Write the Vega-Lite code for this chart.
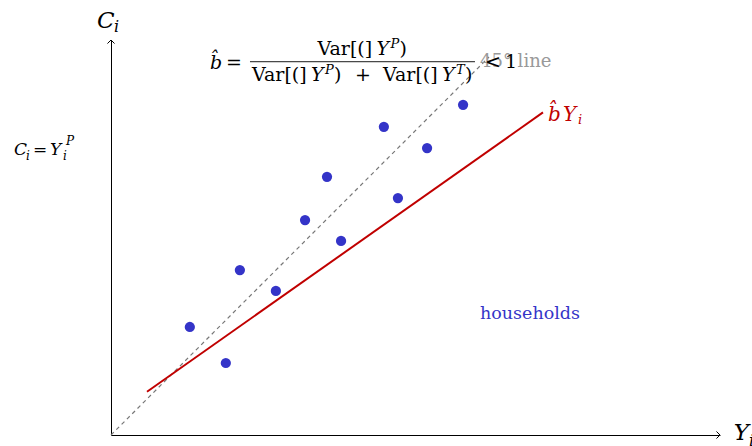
{
  "$schema": "https://vega.github.io/schema/vega-lite/v6.json",
  "width": 609,
  "height": 395,
  "autosize": "none",
  "padding": {"left": 111, "top": 40, "right": 32, "bottom": 11},
  "background": "white",
  "config": {"view": {"stroke": null}, "text": {"font": "DejaVu Serif", "align": "left", "baseline": "middle"}},
  "encoding": {
    "x": {"type": "quantitative", "scale": {"domain": [0, 16.917], "nice": false, "zero": false},
      "axis": {"domain": true, "domainColor": "black", "domainWidth": 1, "ticks": false, "labels": false, "grid": false, "title": null}},
    "y": {"type": "quantitative", "scale": {"domain": [0, 10.972], "nice": false, "zero": false},
      "axis": {"domain": true, "domainColor": "black", "domainWidth": 1, "ticks": false, "labels": false, "grid": false, "title": null}}
  },
  "layer": [
    {
      "data": {"values": [{"x": 0, "y": 0}, {"x": 10.5, "y": 10.5}]},
      "mark": {"type": "line", "color": "#777777", "strokeWidth": 1.2, "strokeDash": [4, 3.5]},
      "encoding": {"x": {"field": "x"}, "y": {"field": "y"}}
    },
    {
      "data": {"values": [{"x": 1, "y": 1.2}, {"x": 12, "y": 8.96}]},
      "mark": {"type": "line", "color": "#c00000", "strokeWidth": 2},
      "encoding": {"x": {"field": "x"}, "y": {"field": "y"}}
    },
    {
      "data": {"values": [
        {"x": 2.19, "y": 3.0}, {"x": 3.19, "y": 2.0}, {"x": 3.58, "y": 4.58},
        {"x": 4.58, "y": 4.0}, {"x": 5.39, "y": 5.97}, {"x": 6.0, "y": 7.17},
        {"x": 6.39, "y": 5.39}, {"x": 7.58, "y": 8.56}, {"x": 7.97, "y": 6.58},
        {"x": 8.78, "y": 7.97}, {"x": 9.78, "y": 9.17}
      ]},
      "mark": {"type": "circle", "color": "#3434c8", "opacity": 1, "size": 105},
      "encoding": {"x": {"field": "x"}, "y": {"field": "y"}}
    },
    {
      "data": {"values": [{"x": 16.917, "y": 0}]},
      "mark": {"type": "point", "shape": "M -1 -1 L 0 0 L -1 1", "filled": false, "stroke": "black", "strokeWidth": 1, "size": 50, "opacity": 1},
      "encoding": {"x": {"field": "x"}, "y": {"field": "y"}}
    },
    {
      "data": {"values": [{"x": 0, "y": 10.972}]},
      "mark": {"type": "point", "shape": "M -1 1 L 0 0 L 1 1", "filled": false, "stroke": "black", "strokeWidth": 1, "size": 50, "opacity": 1},
      "encoding": {"x": {"field": "x"}, "y": {"field": "y"}}
    },
    {
      "data": {"values": [{"x0": 3.861, "x1": 10.111, "y": 10.369}]},
      "mark": {"type": "rule", "color": "black", "strokeWidth": 0.9},
      "encoding": {"x": {"field": "x0"}, "x2": {"field": "x1"}, "y": {"field": "y"}}
    },
    {
      "data": {"values": [
        {"x": -0.389, "y": 11.486, "t": "C"},
        {"x": 17.297, "y": 0.042, "t": "Y"}
      ]},
      "mark": {"type": "text", "fontStyle": "italic", "fontSize": 23, "color": "black"},
      "encoding": {"x": {"field": "x"}, "y": {"field": "y"}, "text": {"field": "t"}}
    },
    {
      "data": {"values": [
        {"x": 0.083, "y": 11.333, "t": "i"},
        {"x": 17.72, "y": -0.167, "t": "i"}
      ]},
      "mark": {"type": "text", "fontStyle": "italic", "fontSize": 16, "color": "black"},
      "encoding": {"x": {"field": "x"}, "y": {"field": "y"}, "text": {"field": "t"}}
    },
    {
      "data": {"values": [
        {"x": -2.694, "y": 7.908, "t": "C"},
        {"x": -1.694, "y": 7.908, "t": "Y"}
      ]},
      "mark": {"type": "text", "fontStyle": "italic", "fontSize": 17, "color": "black"},
      "encoding": {"x": {"field": "x"}, "y": {"field": "y"}, "text": {"field": "t"}}
    },
    {
      "data": {"values": [{"x": -2.167, "y": 7.908, "t": "="}]},
      "mark": {"type": "text", "fontSize": 17, "color": "black"},
      "encoding": {"x": {"field": "x"}, "y": {"field": "y"}, "text": {"field": "t"}}
    },
    {
      "data": {"values": [
        {"x": -2.361, "y": 7.75, "t": "i"},
        {"x": -1.333, "y": 7.75, "t": "i"},
        {"x": -1.25, "y": 8.167, "t": "P"}
      ]},
      "mark": {"type": "text", "fontStyle": "italic", "fontSize": 12, "color": "black"},
      "encoding": {"x": {"field": "x"}, "y": {"field": "y"}, "text": {"field": "t"}}
    },
    {
      "data": {"values": [{"x": 10.25, "y": 10.369, "t": "45° line"}]},
      "mark": {"type": "text", "fontSize": 18, "color": "#999999"},
      "encoding": {"x": {"field": "x"}, "y": {"field": "y"}, "text": {"field": "t"}}
    },
    {
      "data": {"values": [
        {"x": 3.194, "y": 10.333, "t": "="},
        {"x": 5.736, "y": 10.722, "t": "Var[(]"},
        {"x": 8.014, "y": 10.722, "t": ")"},
        {"x": 3.917, "y": 9.986, "t": "Var[(]"},
        {"x": 6.194, "y": 9.986, "t": ")"},
        {"x": 6.778, "y": 9.986, "t": "+"},
        {"x": 7.556, "y": 9.986, "t": "Var[(]"},
        {"x": 9.833, "y": 9.986, "t": ")"},
        {"x": 10.389, "y": 10.369, "t": "<"},
        {"x": 10.944, "y": 10.369, "t": "1"}
      ]},
      "mark": {"type": "text", "fontSize": 19, "color": "black"},
      "encoding": {"x": {"field": "x"}, "y": {"field": "y"}, "text": {"field": "t"}}
    },
    {
      "data": {"values": [
        {"x": 2.75, "y": 10.333, "t": "b̂"},
        {"x": 7.375, "y": 10.722, "t": "Y"},
        {"x": 5.556, "y": 9.986, "t": "Y"},
        {"x": 9.194, "y": 9.986, "t": "Y"}
      ]},
      "mark": {"type": "text", "fontStyle": "italic", "fontSize": 19, "color": "black"},
      "encoding": {"x": {"field": "x"}, "y": {"field": "y"}, "text": {"field": "t"}}
    },
    {
      "data": {"values": [
        {"x": 7.764, "y": 10.861, "t": "P"},
        {"x": 5.944, "y": 10.125, "t": "P"},
        {"x": 9.583, "y": 10.125, "t": "T"}
      ]},
      "mark": {"type": "text", "fontStyle": "italic", "fontSize": 13, "color": "black"},
      "encoding": {"x": {"field": "x"}, "y": {"field": "y"}, "text": {"field": "t"}}
    },
    {
      "data": {"values": [
        {"x": 12.139, "y": 8.889, "t": "b̂"},
        {"x": 12.556, "y": 8.889, "t": "Y"}
      ]},
      "mark": {"type": "text", "fontStyle": "italic", "fontSize": 20, "color": "#c00000"},
      "encoding": {"x": {"field": "x"}, "y": {"field": "y"}, "text": {"field": "t"}}
    },
    {
      "data": {"values": [{"x": 12.972, "y": 8.75, "t": "i"}]},
      "mark": {"type": "text", "fontStyle": "italic", "fontSize": 13, "color": "#c00000"},
      "encoding": {"x": {"field": "x"}, "y": {"field": "y"}, "text": {"field": "t"}}
    },
    {
      "data": {"values": [{"x": 11.639, "y": 3.369, "t": "households"}]},
      "mark": {"type": "text", "fontSize": 17.5, "align": "center", "color": "#3434c8"},
      "encoding": {"x": {"field": "x"}, "y": {"field": "y"}, "text": {"field": "t"}}
    }
  ]
}
